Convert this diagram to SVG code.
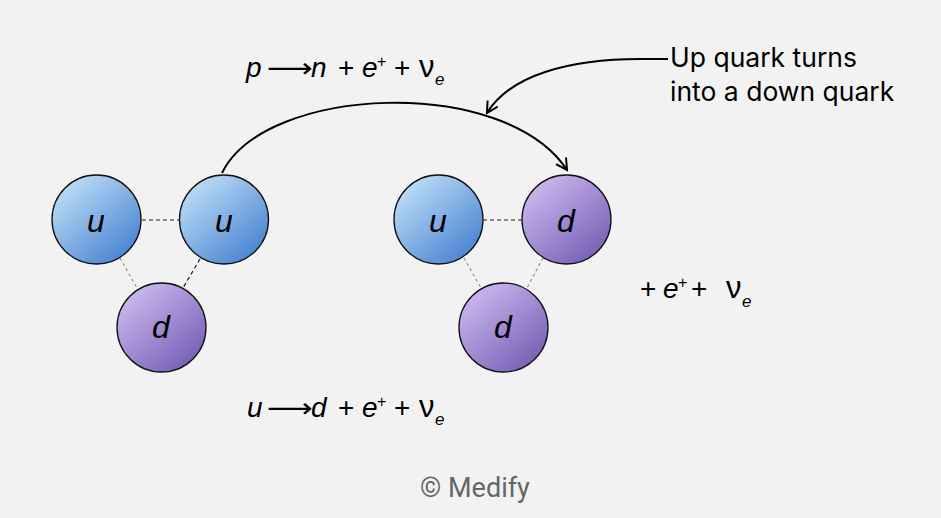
<svg xmlns="http://www.w3.org/2000/svg" width="941" height="518" viewBox="0 0 941 518">
<defs>
<linearGradient id="gu" x1="0.15" y1="0.1" x2="0.85" y2="0.9">
<stop offset="0" stop-color="#bcdcf6"/>
<stop offset="1" stop-color="#4a84d2"/>
</linearGradient>
<linearGradient id="gd" x1="0.15" y1="0.1" x2="0.85" y2="0.9">
<stop offset="0" stop-color="#cbb7ee"/>
<stop offset="1" stop-color="#7860b6"/>
</linearGradient>
<marker id="ah" viewBox="0 0 14 14" refX="12" refY="7" markerWidth="14" markerHeight="14" markerUnits="userSpaceOnUse" orient="auto">
<path d="M1,1 L12,7 L1,13" fill="none" stroke="#000" stroke-width="2"/>
</marker>
</defs>
<style>
.q{stroke:#111;stroke-width:1.3}
.ql{font-family:"Liberation Sans",Arial,sans-serif;font-style:italic;font-size:32px;fill:#000;text-anchor:middle}
.eq{font-family:"Liberation Sans",Arial,sans-serif;font-size:28px;fill:#000}
.it{font-style:italic}
.sup{font-size:16px}
.nu{font-size:31px}
.sub{font-size:17px;font-style:italic}
.arr{font-family:"DejaVu Sans",sans-serif;font-size:27px}
.dk{stroke:#222;stroke-width:1.2;stroke-dasharray:4 3;fill:none}
.lt{stroke:#777;stroke-width:1;stroke-dasharray:3 3;fill:none}
.lbl{font-family:Inter,"Open Sans",sans-serif;font-size:26.5px;fill:#000}
.conn{fill:none;stroke:#000;stroke-width:2}
</style>
<rect width="941" height="518" fill="#f2f2f2"/>
<g id="connectors">
<line class="dk" x1="142" y1="220" x2="179" y2="220"/>
<line class="lt" x1="120" y1="258" x2="137" y2="288"/>
<line class="dk" x1="200" y1="259" x2="183" y2="288"/>
<line class="dk" x1="483" y1="220" x2="522" y2="220"/>
<line class="lt" x1="464" y1="258" x2="481" y2="288"/>
<line class="lt" x1="543" y1="258" x2="527" y2="288"/>
<path class="conn" d="M222,173 C265,85 505,75 567,170" marker-end="url(#ah)"/>
<path class="conn" d="M668,59 L640,59 C570,59 510,75 487,113" marker-end="url(#ah)"/>
</g>
<g id="proton">
<g id="p-u1"><circle class="q" cx="96.5" cy="219.5" r="44.5" fill="url(#gu)"/><text class="ql" x="96" y="232">u</text></g>
<g id="p-u2"><circle class="q" cx="224" cy="219.5" r="44.5" fill="url(#gu)"/><text class="ql" x="224" y="232">u</text></g>
<g id="p-d"><circle class="q" cx="161.5" cy="327.5" r="44.5" fill="url(#gd)"/><text class="ql" x="161" y="338">d</text></g>
</g>
<g id="neutron">
<g id="n-u"><circle class="q" cx="438.5" cy="219.5" r="44.5" fill="url(#gu)"/><text class="ql" x="438" y="232">u</text></g>
<g id="n-d1"><circle class="q" cx="566.5" cy="219.5" r="44.5" fill="url(#gd)"/><text class="ql" x="566" y="232">d</text></g>
<g id="n-d2"><circle class="q" cx="503.5" cy="327.5" r="44.5" fill="url(#gd)"/><text class="ql" x="503" y="338">d</text></g>
</g>
<g id="eq-top">
<text class="eq it" x="246" y="77">p</text>
<text class="eq arr" x="267" y="77" textLength="46" lengthAdjust="spacingAndGlyphs">⟶</text>
<text class="eq" y="77"><tspan class="it" x="311">n</tspan><tspan x="338">+</tspan><tspan class="it" x="362">e</tspan><tspan class="sup" x="377" y="67">+</tspan><tspan x="394" y="77">+</tspan><tspan class="nu" x="419">ν</tspan><tspan class="sub" x="435" y="85">e</tspan></text>
</g>
<g id="eq-bottom">
<text class="eq it" x="247" y="417">u</text>
<text class="eq arr" x="267" y="417" textLength="46" lengthAdjust="spacingAndGlyphs">⟶</text>
<text class="eq" y="417"><tspan class="it" x="311">d</tspan><tspan x="338">+</tspan><tspan class="it" x="362">e</tspan><tspan class="sup" x="377" y="407">+</tspan><tspan x="394" y="417">+</tspan><tspan class="nu" x="419">ν</tspan><tspan class="sub" x="435" y="425">e</tspan></text>
</g>
<g id="eq-right">
<text class="eq" y="298"><tspan x="640">+</tspan><tspan class="it" x="663">e</tspan><tspan class="sup" x="678" y="288">+</tspan><tspan x="691" y="298">+</tspan><tspan class="nu" x="726">ν</tspan><tspan class="sub" x="742" y="307">e</tspan></text>
</g>
<g id="label">
<text class="lbl" x="670" y="67">Up quark turns</text>
<text class="lbl" x="670" y="101">into a down quark</text>
</g>
<text x="475" y="497" font-family="Roboto,'Liberation Sans',sans-serif" font-size="27" fill="#666" text-anchor="middle">© Medify</text>
</svg>
